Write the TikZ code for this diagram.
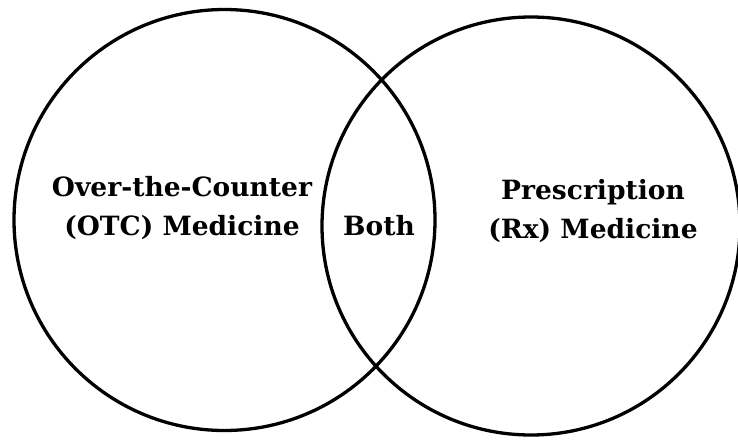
\documentclass[tikz,border=0pt]{standalone}
\usepackage{fontspec}
\setmainfont{DejaVu Serif}
\tikzset{
  setcircle/.style={draw=black, line width=3.3pt, circle, minimum size=#1, inner sep=0pt},
  lbl/.style={font=\bfseries\fontsize{26.5}{39}\selectfont, align=center, inner sep=0pt}
}
\begin{document}
\begin{tikzpicture}[x=1pt,y=-1pt]
\useasboundingbox (0,0) rectangle (738,439);
\node[setcircle=421pt] (otc) at (224.5,220) {};
\node[setcircle=418pt] (rx) at (531,226) {};
\node[lbl, anchor=base] (otctext) at (182,235) {Over-the-Counter\\(OTC) Medicine};
\node[lbl, anchor=base] (both) at (379,235) {Both};
\node[lbl, anchor=base] (rxtext) at (593,238) {Prescription\\(Rx) Medicine};
\end{tikzpicture}
\end{document}
